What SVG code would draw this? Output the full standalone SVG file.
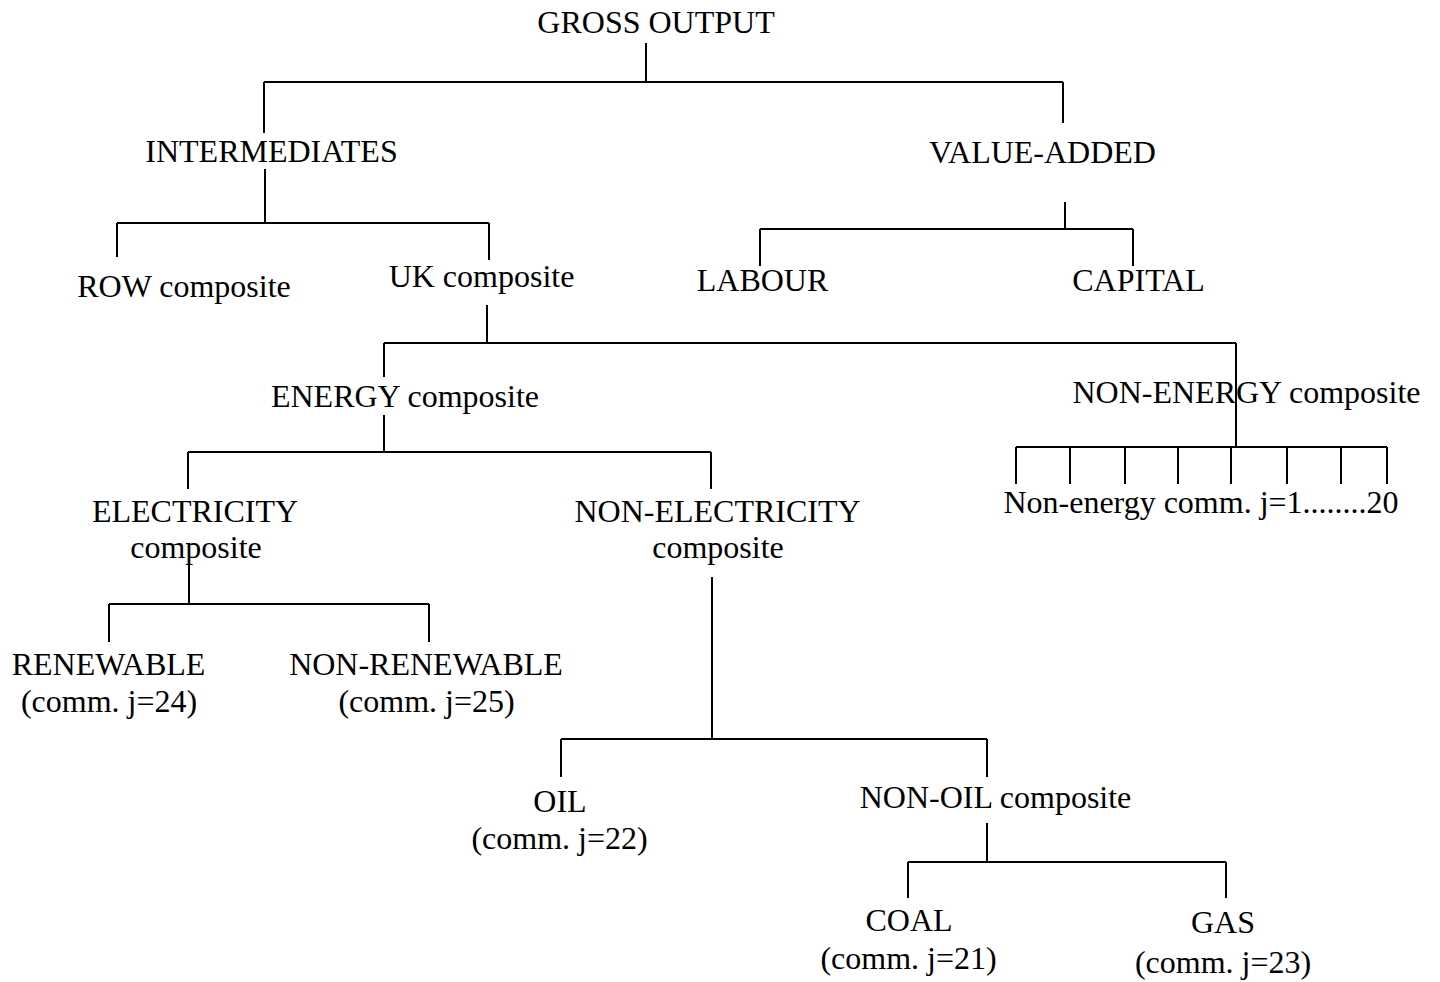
<svg xmlns="http://www.w3.org/2000/svg" width="1440" height="982" viewBox="0 0 1440 982">
<style>
text{font-family:"Liberation Serif","Times New Roman",serif;font-size:32px;fill:#000;text-anchor:middle}
.c line{stroke:#000;stroke-width:2;fill:none}
</style>
<rect width="1440" height="982" fill="#fff"/>
<g class="c" id="connectors">
<line x1="646" y1="43" x2="646" y2="82"/>
<line x1="264" y1="82" x2="1063" y2="82"/>
<line x1="264" y1="82" x2="264" y2="133"/>
<line x1="1063" y1="82" x2="1063" y2="123"/>
<line x1="265" y1="169" x2="265" y2="223"/>
<line x1="117" y1="223" x2="489" y2="223"/>
<line x1="117" y1="223" x2="117" y2="257"/>
<line x1="489" y1="223" x2="489" y2="260"/>
<line x1="1065" y1="202" x2="1065" y2="229"/>
<line x1="760" y1="229" x2="1133" y2="229"/>
<line x1="760" y1="229" x2="760" y2="266"/>
<line x1="1133" y1="229" x2="1133" y2="266"/>
<line x1="487" y1="305" x2="487" y2="343"/>
<line x1="384" y1="343" x2="1236" y2="343"/>
<line x1="384" y1="343" x2="384" y2="377"/>
<line x1="1236" y1="343" x2="1236" y2="447"/>
<line x1="384" y1="415" x2="384" y2="452"/>
<line x1="188" y1="452" x2="711" y2="452"/>
<line x1="188" y1="452" x2="188" y2="489"/>
<line x1="711" y1="452" x2="711" y2="489"/>
<line x1="1016" y1="447" x2="1387" y2="447"/>
<line x1="1016" y1="447" x2="1016" y2="484"/>
<line x1="1070" y1="447" x2="1070" y2="484"/>
<line x1="1125" y1="447" x2="1125" y2="484"/>
<line x1="1178" y1="447" x2="1178" y2="484"/>
<line x1="1231" y1="447" x2="1231" y2="484"/>
<line x1="1287" y1="447" x2="1287" y2="484"/>
<line x1="1341" y1="447" x2="1341" y2="484"/>
<line x1="1387" y1="447" x2="1387" y2="484"/>
<line x1="189" y1="564" x2="189" y2="604"/>
<line x1="109" y1="604" x2="429" y2="604"/>
<line x1="109" y1="604" x2="109" y2="642"/>
<line x1="429" y1="604" x2="429" y2="642"/>
<line x1="712" y1="577" x2="712" y2="739"/>
<line x1="561" y1="739" x2="987" y2="739"/>
<line x1="561" y1="739" x2="561" y2="777"/>
<line x1="987" y1="739" x2="987" y2="777"/>
<line x1="987" y1="823" x2="987" y2="862"/>
<line x1="908" y1="862" x2="1226" y2="862"/>
<line x1="908" y1="862" x2="908" y2="898"/>
<line x1="1226" y1="862" x2="1226" y2="898"/>
</g>
<g id="gross-output"><text x="656" y="33">GROSS OUTPUT</text></g>
<g id="intermediates"><text x="271.5" y="162">INTERMEDIATES</text></g>
<g id="value-added"><text x="1042.5" y="163">VALUE-ADDED</text></g>
<g id="row-composite"><text x="184" y="297">ROW composite</text></g>
<g id="uk-composite"><text x="481.5" y="287">UK composite</text></g>
<g id="labour"><text x="762.5" y="291">LABOUR</text></g>
<g id="capital"><text x="1138.5" y="291">CAPITAL</text></g>
<g id="energy-composite"><text x="405" y="407">ENERGY composite</text></g>
<g id="non-energy-composite"><text x="1246.5" y="403">NON-ENERGY composite</text></g>
<g id="non-energy-comm"><text x="1201" y="513">Non-energy comm. j=1........20</text></g>
<g id="electricity"><text x="195" y="522">ELECTRICITY</text><text x="196" y="558">composite</text></g>
<g id="non-electricity"><text x="717.5" y="522">NON-ELECTRICITY</text><text x="718" y="558">composite</text></g>
<g id="renewable"><text x="108.5" y="675">RENEWABLE</text><text x="109" y="712">(comm. j=24)</text></g>
<g id="non-renewable"><text x="426" y="675">NON-RENEWABLE</text><text x="426.5" y="712">(comm. j=25)</text></g>
<g id="oil"><text x="560" y="812">OIL</text><text x="559.5" y="849">(comm. j=22)</text></g>
<g id="non-oil"><text x="995.5" y="808">NON-OIL composite</text></g>
<g id="coal"><text x="909" y="931">COAL</text><text x="908.5" y="969">(comm. j=21)</text></g>
<g id="gas"><text x="1223" y="933">GAS</text><text x="1223" y="973">(comm. j=23)</text></g>
</svg>
